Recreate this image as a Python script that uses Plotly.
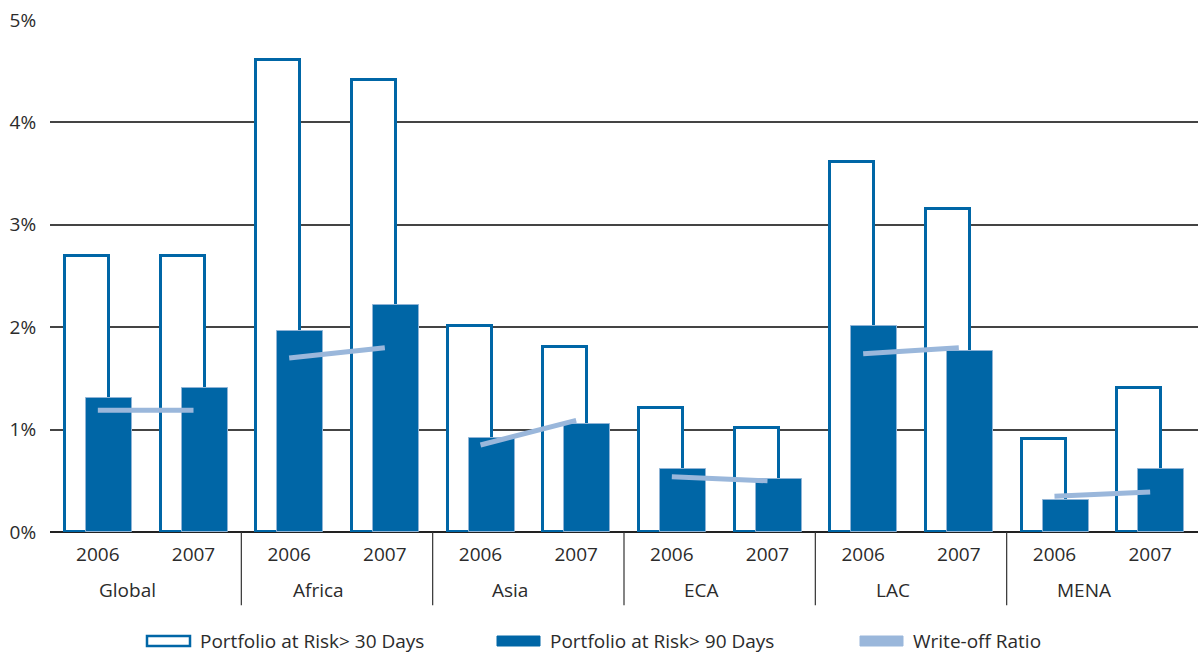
import plotly.graph_objects as go

# Microfinance portfolio quality by region, 2006 vs 2007 (percent)
regions = ["Global", "Africa", "Asia", "ECA", "LAC", "MENA"]
years = ["2006", "2007"]
par30 = [2.70, 2.70, 4.61, 4.41, 2.01, 1.81, 1.21, 1.02, 3.61, 3.15, 0.91, 1.41]
par90 = [1.31, 1.41, 1.96, 2.22, 0.92, 1.05, 0.62, 0.52, 2.01, 1.77, 0.31, 0.62]
writeoff = [1.19, 1.19, 1.70, 1.80, 0.85, 1.09, 0.54, 0.50, 1.74, 1.80, 0.35, 0.39]
y_ticks = [0, 1, 2, 3, 4, 5]

DARK = "#0066a6"
LIGHT = "#9ab7db"
TEXT = "#2b2b2b"
FONT = "Open Sans"
FS = 19

slots = list(range(len(regions) * len(years)))
year_labels = [years[i % 2] for i in slots]

fig = go.Figure()

fig.add_trace(go.Bar(
    x=slots, y=par30, width=0.46, offset=-0.343,
    marker=dict(color="white", line=dict(color=DARK, width=3)),
    name="Portfolio at Risk> 30 Days", showlegend=False,
))
fig.add_trace(go.Bar(
    x=slots, y=par90, width=0.48, offset=-0.123,
    marker=dict(color=DARK, line=dict(color="#8fb4d6", width=1)),
    name="Portfolio at Risk> 90 Days", showlegend=False,
))

# write-off ratio: one segment per region joining its two years
wx, wy = [], []
for r in range(len(regions)):
    wx += [2 * r, 2 * r + 1, None]
    wy += [writeoff[2 * r], writeoff[2 * r + 1], None]
fig.add_trace(go.Scatter(
    x=wx, y=wy, mode="lines", line=dict(color=LIGHT, width=5),
    name="Write-off Ratio", showlegend=False, connectgaps=False,
))

shapes = []
annotations = []
# region separators below the axis
for r in range(1, len(regions)):
    shapes.append(dict(type="line", xref="x", yref="paper",
                       x0=2 * r - 0.5, x1=2 * r - 0.5, y0=0, y1=-0.143,
                       line=dict(color="#333333", width=1.2)))
# region names, set slightly left of each group's centre
for r, name in enumerate(regions):
    annotations.append(dict(x=2 * r + 0.31, y=-0.113, xref="x", yref="paper",
                            text=name, showarrow=False, yanchor="middle",
                            font=dict(size=FS, color=TEXT, family=FONT)))

# legend drawn below the chart
legend_items = [
    ("Portfolio at Risk> 30 Days", 147, "outline"),
    ("Portfolio at Risk> 90 Days", 497, "solid"),
    ("Write-off Ratio", 860, "light"),
]
W, H = 1198, 654
left, right, top, bottom = 50, 0, 20, 122
pw, ph = W - left - right, H - top - bottom


def px_x(p):
    return (p - left) / pw


def px_y(p):
    return (H - bottom - p) / ph


for label, x0, kind in legend_items:
    if kind == "outline":
        style = dict(fillcolor="white", line=dict(color=DARK, width=2.5))
    elif kind == "solid":
        style = dict(fillcolor=DARK, line=dict(color=DARK, width=1))
    else:
        style = dict(fillcolor=LIGHT, line=dict(color=LIGHT, width=1))
    shapes.append(dict(type="rect", xref="paper", yref="paper",
                       x0=px_x(x0), x1=px_x(x0 + 43),
                       y0=px_y(646), y1=px_y(636), **style))
    annotations.append(dict(x=px_x(x0 + 51), y=px_y(641), xref="paper", yref="paper",
                            text=label, showarrow=False, xanchor="left", yanchor="middle",
                            font=dict(size=FS, color=TEXT, family=FONT)))

fig.update_layout(
    width=W, height=H,
    margin=dict(l=left, r=right, t=top, b=bottom),
    plot_bgcolor="white", paper_bgcolor="white",
    barmode="overlay", bargap=0,
    font=dict(family=FONT, size=FS, color=TEXT),
    shapes=shapes, annotations=annotations,
    showlegend=False,
)
fig.update_xaxes(
    range=[-0.5, len(slots) - 0.5], tickmode="array",
    tickvals=slots, ticktext=year_labels, showgrid=False, zeroline=False,
    showline=False, ticks="outside", ticklen=5, tickcolor="rgba(0,0,0,0)",
    tickfont=dict(size=FS, color=TEXT, family=FONT),
)
fig.update_yaxes(
    range=[0, 5], tickmode="array", tickvals=y_ticks,
    ticktext=[f"{v}%" for v in y_ticks], showgrid=True,
    gridcolor="#444444", gridwidth=1.5, zeroline=True, zerolinecolor="#222222",
    zerolinewidth=1.5, ticks="outside", ticklen=9, tickcolor="rgba(0,0,0,0)",
    tickfont=dict(size=FS, color=TEXT, family=FONT),
)

fig.write_html("out.html")
